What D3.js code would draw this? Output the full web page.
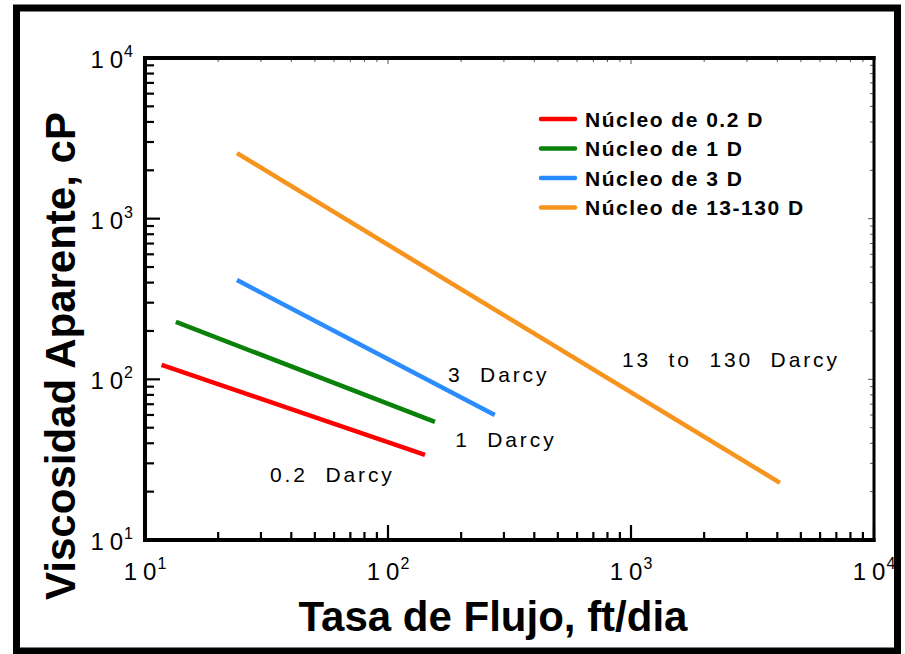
<!DOCTYPE html>
<html>
<head>
<meta charset="utf-8">
<script src="https://cdn.jsdelivr.net/npm/d3@7"></script>
<style>
  html, body { margin: 0; padding: 0; background: #fff; }
  svg { display: block; }
  text { font-family: "Liberation Sans", Arial, Helvetica, sans-serif; fill: #000; }
</style>
</head>
<body>
<svg id="chart" width="905" height="654"></svg>
<script>
// Power-law trends of apparent viscosity vs. flow rate for cores of different permeability
const seriesNames = ["Núcleo de 0.2 D", "Núcleo de 1 D", "Núcleo de 3 D", "Núcleo de 13-130 D"];
const seriesColors = ["#ff0000", "#0a820a", "#2b8cff", "#f7941d"];
const rateStart = [11.7, 13.4, 23.9, 23.9];      // ft/dia
const rateEnd   = [142, 156, 275, 4100];         // ft/dia
const viscStart = [123, 228, 415, 2560];         // cP
const viscEnd   = [33.9, 54.3, 60, 22.7];        // cP

// Curve annotations (anchored in data units)
const noteText = ["0.2  Darcy", "1  Darcy", "3  Darcy", "13  to  130  Darcy"];
const noteRate = [32.7, 189, 176.6, 918];
const noteVisc = [23.0, 37.9, 96.4, 119];

const decadeExponents = [1, 2, 3, 4];

(function draw() {
  const svg = d3.select("#chart");
  const W = 905, H = 654;
  const pLeft = 145, pRight = 874, pTop = 58, pBottom = 540;

  const x = d3.scaleLog().domain([10, 1e4]).range([pLeft, pRight]);
  const y = d3.scaleLog().domain([10, 1e4]).range([pBottom, pTop]);

  // Outer frame
  svg.append("rect").attr("x", 0).attr("y", 0).attr("width", W).attr("height", H).attr("fill", "#fff");
  svg.append("rect")
    .attr("x", 16.5).attr("y", 8).attr("width", 881).attr("height", 643)
    .attr("fill", "none").attr("stroke", "#000").attr("stroke-width", 7);

  const allTicks = x.ticks(); // 1..9 per decade

  // Ticks on all four sides (pointing inward)
  const g = svg.append("g");
  allTicks.forEach(v => {
    const major = Math.abs(Math.log10(v) - Math.round(Math.log10(v))) < 1e-9;
    g.append("line").attr("x1", x(v)).attr("x2", x(v))
      .attr("y1", pBottom).attr("y2", pBottom - (major ? 15 : 8))
      .attr("stroke", "#000").attr("stroke-width", 2.2);
    g.append("line").attr("y1", y(v)).attr("y2", y(v))
      .attr("x1", pLeft).attr("x2", pLeft + (major ? 15 : 9))
      .attr("stroke", "#000").attr("stroke-width", 2.2);
    g.append("line").attr("x1", x(v)).attr("x2", x(v))
      .attr("y1", pTop).attr("y2", pTop + (major ? 6 : 4))
      .attr("stroke", "#555").attr("stroke-width", 1);
    g.append("line").attr("y1", y(v)).attr("y2", y(v))
      .attr("x1", pRight).attr("x2", pRight - (major ? 6 : 4))
      .attr("stroke", "#555").attr("stroke-width", 1);
  });

  // Axis box
  svg.append("line").attr("x1", pLeft).attr("x2", pRight + 1.5).attr("y1", pTop).attr("y2", pTop)
    .attr("stroke", "#000").attr("stroke-width", 4);
  svg.append("line").attr("x1", pLeft).attr("x2", pRight + 1.5).attr("y1", pBottom).attr("y2", pBottom)
    .attr("stroke", "#000").attr("stroke-width", 4);
  svg.append("line").attr("x1", pLeft).attr("x2", pLeft).attr("y1", pTop - 2).attr("y2", pBottom + 2)
    .attr("stroke", "#000").attr("stroke-width", 4);
  svg.append("line").attr("x1", pRight).attr("x2", pRight).attr("y1", pTop - 2).attr("y2", pBottom + 2)
    .attr("stroke", "#000").attr("stroke-width", 3);

  // Tick labels: "1 0" with superscript exponent
  function powerLabel(sel, e) {
    sel.append("tspan").text("1").attr("font-size", 24);
    sel.append("tspan").text("0").attr("font-size", 24).attr("dx", 6);
    sel.append("tspan").text(e).attr("font-size", 16).attr("dy", -11).attr("dx", 1);
  }
  decadeExponents.forEach(e => {
    const v = Math.pow(10, e);
    const tx = svg.append("text").attr("x", x(v)).attr("y", pBottom + 40)
      .attr("text-anchor", "middle");
    powerLabel(tx, e);
    const ty = svg.append("text").attr("x", pLeft - 12).attr("y", y(v) + 10)
      .attr("text-anchor", "end");
    powerLabel(ty, e);
  });

  // Data lines
  const line = d3.line().x(d => x(d[0])).y(d => y(d[1]));
  seriesNames.forEach((name, i) => {
    svg.append("path")
      .datum([[rateStart[i], viscStart[i]], [rateEnd[i], viscEnd[i]]])
      .attr("d", line)
      .attr("fill", "none")
      .attr("stroke", seriesColors[i])
      .attr("stroke-width", 4.5);
  });

  // Annotations
  noteText.forEach((t, i) => {
    svg.append("text")
      .attr("x", x(noteRate[i]))
      .attr("y", y(noteVisc[i]))
      .attr("font-size", 21)
      .attr("letter-spacing", 2.9)
      .style("white-space", "pre")
      .text(t);
  });

  // Legend
  const legend = svg.append("g");
  seriesNames.forEach((name, i) => {
    const ly = 119 + i * 29.5;
    legend.append("line").attr("x1", 541).attr("x2", 575).attr("y1", ly).attr("y2", ly)
      .attr("stroke", seriesColors[i]).attr("stroke-width", 4.5).attr("stroke-linecap", "round");
    legend.append("text").attr("x", 585).attr("y", ly + 7.5)
      .attr("font-size", 21).attr("font-weight", "bold").attr("letter-spacing", 1.5)
      .text(name);
  });

  // Axis titles
  svg.append("text")
    .attr("x", 493).attr("y", 631)
    .attr("text-anchor", "middle")
    .attr("font-size", 42).attr("font-weight", "bold")
    .text("Tasa de Flujo, ft/dia");

  svg.append("text")
    .attr("transform", "translate(75, 356) rotate(-90)")
    .attr("text-anchor", "middle")
    .attr("font-size", 42).attr("font-weight", "bold")
    .text("Viscosidad Aparente, cP");
})();
</script>
</body>
</html>
